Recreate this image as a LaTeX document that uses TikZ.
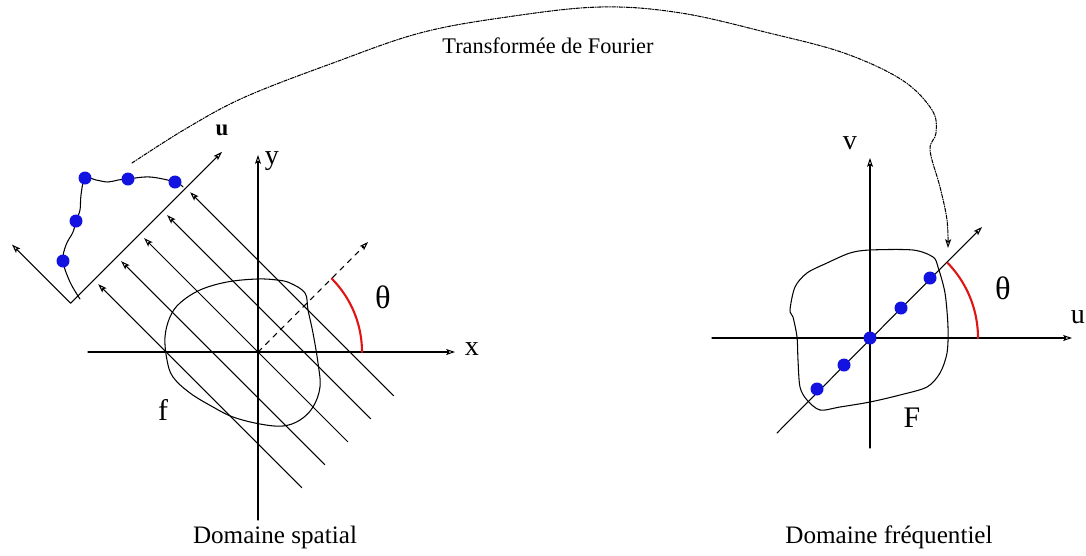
\documentclass[tikz,border=0pt]{standalone}
\usepackage{fontspec}
\setmainfont{Liberation Serif}
\usetikzlibrary{arrows.meta}
\definecolor{dotblue}{RGB}{18,18,225}
\definecolor{arcred}{RGB}{225,20,20}
\tikzset{
  axis/.style={line width=0.6pt, -{Stealth[open,length=5pt,width=3.4pt,inset=1pt]}},
  ray/.style={line width=0.6pt, -{Stealth[open,length=5pt,width=3.4pt,inset=1pt]}},
  blob/.style={line width=0.6pt},
  pt/.style={fill=dotblue},
  anglearc/.style={arcred, line width=1.2pt},
  fourier/.style={line width=0.6pt, dash pattern=on 2pt off 0.8pt on 0.5pt off 0.8pt,
    -{Stealth[open,length=5pt,width=3.4pt,inset=1pt]}},
  lab/.style={font=\fontsize{16}{16}\selectfont, inner sep=0pt},
  biglab/.style={font=\fontsize{17}{17}\selectfont, inner sep=0pt},
  thetalab/.style={font=\fontsize{18.5}{18.5}\selectfont, inner sep=0pt},
  title/.style={font=\fontsize{14.3}{15}\selectfont, inner sep=0pt}
}
\begin{document}
\begin{tikzpicture}[x=0.02cm, y=-0.02cm, line cap=round, line join=round]
  \useasboundingbox (0,0) rectangle (1086,555);
  % domaine spatial: les axes x et y, la direction theta en tirets
  \draw[axis] (88,352) -- (455,352);
  \draw[axis] (258,520) -- (258,155);
  \draw[axis, dashed] (258,352) -- (368,242);
  \draw[anglearc] plot[domain=0:45, samples=30] ({258+104*cos(\x)},{352-104*sin(\x)});
  % l'objet f
  \draw[blob] plot[smooth cycle, tension=0.6] coordinates {
    (257,279) (277,280) (290,283) (305,293) (308,310) (313,333) (318,363) (320,387)
    (313,407) (300,420) (283,426) (260,424) (233,417) (213,407) (190,393) (173,377)
    (167,360) (165,337) (170,317) (180,303) (200,290) (227,282)};
  % les rayons paralleles et l'axe u de projection, dans le repere tourne
  \begin{scope}[shift={(258,352)}, x={(0.01414cm,0.01414cm)}, y={(0.01414cm,-0.01414cm)}]
    \foreach \k in {-2,...,2} {
      \draw[ray] (32.5*\k,127) -- (32.5*\k,-161);
    }
    \draw[line width=0.6pt, {Stealth[open,length=5pt,width=3.4pt,inset=1pt]}-{Stealth[open,length=5pt,width=3.4pt,inset=1pt]}]
      (-98,-250) -- (-98,-167) -- (116,-167);
  \end{scope}
  % le profil projete et ses echantillons
  \draw[blob] plot[smooth, tension=0.6] coordinates {
    (80,299) (70,282) (63,261) (66,245) (73,232) (76,221) (80,210) (81,195) (85,178)
    (96,180) (108,182) (118,180) (128,179) (150,177) (175,182) (183,187)};
  \foreach \x/\y in {63/261, 76/221, 85/178, 128/179, 175/182} {
    \fill[pt] (\x,\y) circle (6.5);
  }
  % domaine frequentiel: axes u et v, la coupe a l'angle theta
  \draw[axis] (712,338) -- (1072,338);
  \draw[axis] (870,448) -- (870,158);
  \draw[axis] (777,433) -- (982,227);
  \draw[anglearc] plot[domain=0:44, samples=30] ({870+108*cos(\x)},{338-108*sin(\x)});
  % l'objet F
  \draw[blob] plot[smooth cycle, tension=0.5] coordinates {
    (870,250) (913,250) (933,257) (938,267) (945,293) (948,327) (947,353) (940,373)
    (927,387) (900,395) (870,402) (840,407) (820,410) (807,400) (800,387) (798,360)
    (797,337) (793,317) (790,310) (795,287) (807,273) (827,263) (850,253)};
  \foreach \x/\y in {817/389, 844/365, 870/338, 901/308, 930/278} {
    \fill[pt] (\x,\y) circle (6.5);
  }
  % la fleche de la transformee de Fourier
  \draw[fourier] plot[smooth, tension=0.6] coordinates {
    (132,163) (187,128) (245,97) (333,63) (420,33) (507,17) (600,7) (681,13) (769,33)
    (844,53) (902,80) (932,110) (936,133) (930,150) (940,187) (947,220) (948,248)};
  % les textes
  \node[title, font=\fontsize{12.7}{13}\selectfont] (tf) at (548,46) {Transformée de Fourier};
  \node[title] (dspatial) at (275,537) {Domaine spatial};
  \node[title] (dfreq) at (889,537) {Domaine fréquentiel};
  \node[lab] (xlab) at (472,349) {x};
  \node[lab] (ylab) at (272,161) {y};
  \node[lab, font=\fontsize{13}{13}\selectfont\bfseries] (ulab) at (222,130) {u};
  \node[thetalab] (thetaL) at (383,297) {θ};
  \node[biglab] (flab) at (163,410) {f};
  \node[lab] (vlab) at (850,143) {v};
  \node[lab] (ulabR) at (1078,317) {u};
  \node[thetalab] (thetaR) at (1003,288) {θ};
  \node[biglab] (Flab) at (912,418) {F};
\end{tikzpicture}
\end{document}
